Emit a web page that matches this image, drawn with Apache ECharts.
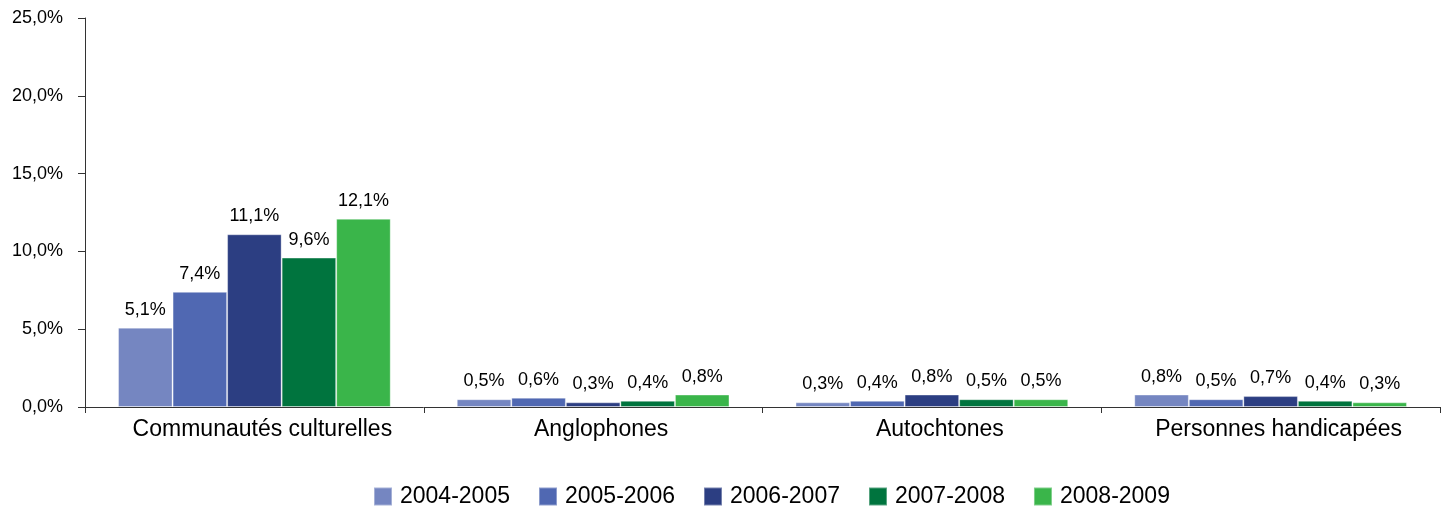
<!DOCTYPE html>
<html><head><meta charset="utf-8">
<script src="https://cdn.jsdelivr.net/npm/echarts@6/dist/echarts.min.js"></script>
<style>html,body{margin:0;padding:0;background:#fff}#c{width:1448px;height:508px}</style>
</head><body><div id="c"></div>
<script>
const categories = ['Communautés culturelles', 'Anglophones', 'Autochtones', 'Personnes handicapées'];
const seriesNames = ['2004-2005', '2005-2006', '2006-2007', '2007-2008', '2008-2009'];
const s2004 = [5.1, 0.5, 0.3, 0.8];
const s2005 = [7.4, 0.6, 0.4, 0.5];
const s2006 = [11.1, 0.3, 0.8, 0.7];
const s2007 = [9.6, 0.4, 0.5, 0.4];
const s2008 = [12.1, 0.8, 0.5, 0.3];
const colors = ['#7586C1', '#5068B2', '#2C3E82', '#00743E', '#3AB54A'];
const allData = [s2004, s2005, s2006, s2007, s2008];
const fmt = v => v.toFixed(1).replace('.', ',') + '%';
const font = 'Liberation Sans, Arial, sans-serif';
const chart = echarts.init(document.getElementById('c'));
chart.setOption({
  animation: false,
  textStyle: { fontFamily: font },
  grid: { left: 85, right: 8, top: 18, bottom: 101, containLabel: false },
  legend: {
    top: 480, left: 368, itemWidth: 18, itemHeight: 18, itemGap: 28,
    icon: 'rect',
    textStyle: { fontSize: 23, color: '#000', fontFamily: font, padding: [0, 0, 0, 3] },
    data: seriesNames
  },
  xAxis: {
    type: 'category', data: categories,
    axisLine: { lineStyle: { color: '#333', width: 1 } },
    axisTick: { show: true, length: 6, lineStyle: { color: '#333' } },
    axisLabel: { fontSize: 23, color: '#000', margin: 11, fontFamily: font, padding: [0, 0, 0, 16] }
  },
  yAxis: {
    type: 'value', min: 0, max: 25, interval: 5,
    axisLine: { show: true, lineStyle: { color: '#333', width: 1 } },
    axisTick: { show: true, length: 7, lineStyle: { color: '#333' } },
    splitLine: { show: false },
    axisLabel: { fontSize: 18, color: '#000', margin: 22, formatter: fmt, fontFamily: font }
  },
  series: seriesNames.map((n, i) => ({
    name: n, type: 'bar', data: allData[i],
    barGap: '0%', barCategoryGap: '19.5%',
    itemStyle: { color: colors[i], borderColor: 'rgba(255,255,255,0.35)', borderWidth: 1 },
    label: { show: true, position: 'top', distance: 9, fontSize: 18, color: '#000',
      fontFamily: font, formatter: p => fmt(p.value) }
  }))
});
</script></body></html>
